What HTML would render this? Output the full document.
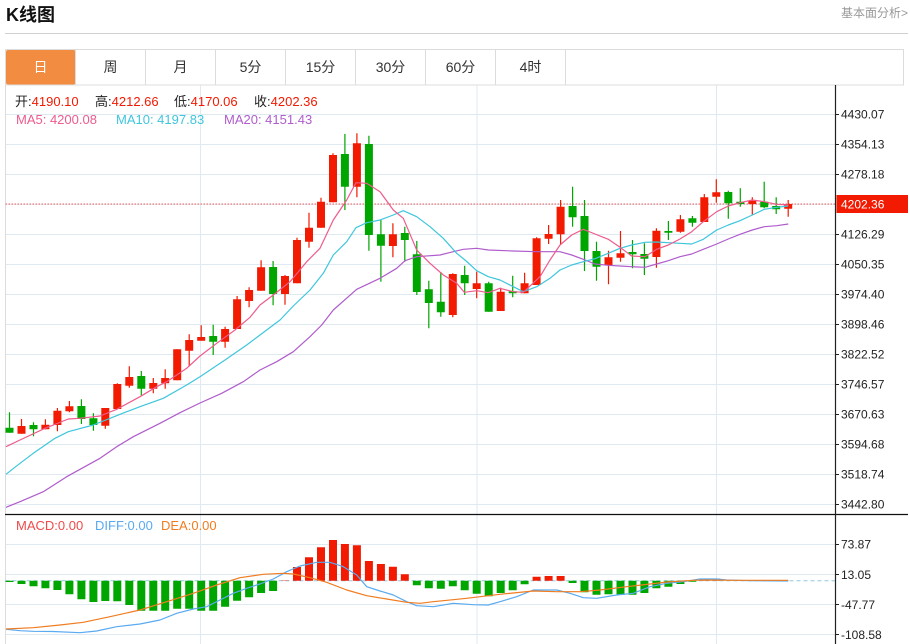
<!DOCTYPE html>
<html><head><meta charset="utf-8">
<style>
html,body{margin:0;padding:0;background:#fff;}
body{width:910px;height:644px;overflow:hidden;position:relative;font-family:"Liberation Sans","Noto Sans CJK SC",sans-serif;}
svg{position:absolute;left:0;top:0;}
</style></head>
<body>
<svg width="910" height="644" viewBox="0 0 910 644" xmlns="http://www.w3.org/2000/svg" font-family="Liberation Sans, Noto Sans CJK SC, sans-serif">
<text x="6" y="21" font-size="18" font-weight="bold" fill="#111">K线图</text>
<text x="908" y="17" font-size="12" fill="#999" text-anchor="end">基本面分析&gt;</text>
<line x1="5" y1="33.5" x2="908" y2="33.5" stroke="#d0d0d0" stroke-width="1"/>
<rect x="5.5" y="49.5" width="898" height="35.5" fill="#fff" stroke="#dcdcdc"/>
<rect x="6" y="50" width="69.5" height="34.5" rx="2" fill="#f28c40"/>
<path stroke="#dcdcdc" d="M75.5 49.5V85M145.5 49.5V85M215.5 49.5V85M285.5 49.5V85M355.5 49.5V85M425.5 49.5V85M495.5 49.5V85M565.5 49.5V85"/>
<g font-size="14" text-anchor="middle" fill="#333">
<text x="40.5" y="72" fill="#fff">日</text>
<text x="110.5" y="72">周</text>
<text x="180.5" y="72">月</text>
<text x="250.5" y="72">5分</text>
<text x="320.5" y="72">15分</text>
<text x="390.5" y="72">30分</text>
<text x="460.5" y="72">60分</text>
<text x="530.5" y="72">4时</text>
</g>
<path stroke="#dfe9f1" stroke-width="1" fill="none" d="M5.5 114.5H835M5.5 144.5H835M5.5 174.5H835M5.5 204.5H835M5.5 234.5H835M5.5 264.5H835M5.5 294.5H835M5.5 324.5H835M5.5 354.5H835M5.5 384.5H835M5.5 414.5H835M5.5 444.5H835M5.5 474.5H835M5.5 504.5H835M5.5 544.5H835M5.5 574.5H835M5.5 604.5H835M5.5 634.5H835M200.5 85V644M477 85V644M716.5 85V644"/>
<line x1="5.5" y1="85" x2="5.5" y2="644" stroke="#dcdcdc"/>
<g font-size="13">
<text x="15" y="106" fill="#222">开:<tspan fill="#f21a00">4190.10</tspan></text>
<text x="95" y="106" fill="#222">高:<tspan fill="#f21a00">4212.66</tspan></text>
<text x="174" y="106" fill="#222">低:<tspan fill="#f21a00">4170.06</tspan></text>
<text x="254" y="106" fill="#222">收:<tspan fill="#f21a00">4202.36</tspan></text>
<text x="16" y="124" fill="#ee5b8c">MA5: 4200.08</text>
<text x="116" y="124" fill="#3ec6dc">MA10: 4197.83</text>
<text x="224" y="124" fill="#b05ccc">MA20: 4151.43</text>
<text x="16" y="530" fill="#f04a4a">MACD:0.00</text>
<text x="95" y="530" fill="#5aaaf0">DIFF:0.00</text>
<text x="161" y="530" fill="#f07c20">DEA:0.00</text>
</g>
<line x1="5.5" y1="204" x2="835" y2="204" stroke="#f07878" stroke-width="1.2" stroke-dasharray="1.5,1.5"/>
<path stroke="#f21a00" stroke-width="1.2" fill="none" d="M21.5 419V433.7M45.4 419.3V429.3M57.4 408V431.3M69.4 401V412.3M105.3 408V428.7M117.3 383.3V409M129.3 366.3V387.7M153.3 378V393.3M165.2 369.3V388.7M177.2 349.3V380.3M189.2 334.3V366M201.2 325.3V340.7M225.1 326.7V347.7M237.1 296V329M249.1 287.3V307.3M261.1 260.3V290.7M285 275V304.7M297 237.7V283.3M309 212.7V247.7M321 197.7V227.7M333 153.3V202.3M356.9 133.3V197.3M392.9 223.3V257.3M452.8 273.3V317.3M476.7 271.7V298.3M500.7 287.7V311M524.6 272.7V293.3M536.6 237.3V285M548.6 225V244M560.6 200V245M608.5 250.7V284.3M620.5 231V261.7M656.4 228.3V267.7M680.4 215V232.7M704.3 194V222M716.3 179.3V202.7M752.3 197.3V215M788.2 200V216.7"/>
<path fill="#f21a00" d="M17.5 426h8v7.7h-8zM41.4 424.7h8v4.6h-8zM53.4 410.7h8v14.3h-8zM65.4 406.3h8v5h-8zM101.3 408h8v17.7h-8zM113.3 384h8v25h-8zM125.3 377h8v8.7h-8zM149.3 383h8v5.7h-8zM161.2 378h8v5.3h-8zM173.2 349.3h8v31h-8zM185.2 340h8v10.7h-8zM197.2 337h8v3.7h-8zM221.1 329h8v12.7h-8zM233.1 299.3h8v29.7h-8zM245.1 290h8v11h-8zM257.1 267.3h8v23.4h-8zM281 276h8v18h-8zM293 240h8v43.3h-8zM305 227.7h8v14h-8zM317 201.7h8v26h-8zM329 155h8v47.3h-8zM352.9 143.3h8v43.4h-8zM388.9 234.3h8v11.7h-8zM448.8 274h8v41h-8zM472.7 283.3h8v5.7h-8zM496.7 291.7h8v19.3h-8zM520.6 283.3h8v10h-8zM532.6 238.3h8v46.7h-8zM544.6 234h8v4.7h-8zM556.6 206.7h8v27.6h-8zM604.5 257.3h8v8h-8zM616.5 253.3h8v4.4h-8zM652.4 230.7h8v26.3h-8zM676.4 219.3h8v12.4h-8zM700.3 197.3h8v24.7h-8zM712.3 192.3h8v4.4h-8zM748.3 200.7h8v3.3h-8zM784.2 204h8v4.8h-8z"/>
<path stroke="#00a600" stroke-width="1.2" fill="none" d="M9.5 412.3V432.7M33.5 422.3V436.3M81.4 399.3V424M93.4 413.3V430.7M141.3 371V395.3M213.2 324.7V355M273.1 261V305.3M344.9 134V210M368.9 135.7V250.7M380.9 220V281.7M404.8 226.7V261.7M416.8 241V295M428.8 280.7V328.3M440.8 272V316.7M464.7 265.7V295M488.7 281.7V311.7M512.7 275.7V297.3M572.6 186.7V226.7M584.5 200V271M596.5 241.7V280.7M632.5 240V268.3M644.4 243.3V275M668.4 221V240M692.4 216V226.7M728.3 190.7V218.7M740.3 188.3V206.7M764.2 181.7V208.3M776.2 197.3V214"/>
<path fill="#00a600" d="M5.5 427.7h8v5h-8zM29.5 425h8v4.3h-8zM77.4 406h8v13h-8zM89.4 418.3h8v6.7h-8zM137.3 376h8v12.7h-8zM209.2 336h8v5.7h-8zM269.1 267h8v27h-8zM340.9 154h8v32.7h-8zM364.9 144h8v91h-8zM376.9 234.3h8v11.4h-8zM400.8 233h8v7h-8zM412.8 254.3h8v37.7h-8zM424.8 289.3h8v13.7h-8zM436.8 301.7h8v10.6h-8zM460.7 275h8v8.3h-8zM484.7 283.3h8v28.4h-8zM508.7 291.3h8v2h-8zM568.6 206h8v11.3h-8zM580.5 216h8v35h-8zM592.5 251h8v15.7h-8zM628.5 252h8v2.3h-8zM640.4 254h8v4.7h-8zM664.4 231h8v1.7h-8zM688.4 218.3h8v4.4h-8zM724.3 192h8v11.3h-8zM736.3 201.7h8v2.3h-8zM760.2 201.7h8v5.6h-8zM772.2 206h8v3.3h-8z"/>
<g fill="none" stroke-width="1.2" stroke-linejoin="round">
<polyline stroke="#b05ccc" points="6,507.3 20,501.7 43.3,491.7 66.7,476.7 100,458.3 116.7,446.7 133.3,436.7 160,423.3 180,412.7 200,403 221.7,393.3 243.3,381.7 260,370 276.7,361.7 293.3,351.7 310,336.7 321.7,325 333.3,310 356.7,289.3 380,278.3 396.7,268.3 405,260.7 416.7,256.7 440,255 453.3,251.7 463.3,249.3 476.7,248.3 488.3,250 513.3,251 536.7,251.7 560,251.7 571.7,255 583.3,259.3 595,264 608.3,265.3 620,266 631.7,266.7 645,267.3 656.7,264 668.3,260.7 680,256.7 691.7,254 703.3,249.3 716.7,244 728.3,239 740,234.3 752.3,230 764.3,226.7 776.7,225.7 788.3,224"/>
<polyline stroke="#3ec6dc" points="6,474.3 20,463.3 33.3,453.3 55,438.3 68.3,431.7 93.3,425 110,418.3 126.7,411.7 140,406.7 163.3,398.3 186.7,385 200,376.7 225,360 246.7,345 260,335 280,320 293.3,306 310,290 323.3,273.3 333.3,255 346.7,241.7 356,227.7 366.7,222.7 380,220 393.3,215 403.3,210.7 416.7,216.7 430,226.7 443.3,238.3 456.7,253.3 465,260 476.7,270.7 488.3,276.7 500,280 513.3,286.7 523.3,291.7 536.7,286.7 550,278.3 560,270 571.7,265 583.3,261.7 595,258.7 608.3,253.3 620,248.3 631.7,245 645,242.3 656.7,242 668.3,242.7 680,243.3 691.7,244 703.3,239.3 716.7,230 728.3,225 740,220.7 752.3,215 764.3,209.3 776.7,207.3 788.3,206"/>
<polyline stroke="#ee5b8c" points="6,446.7 20,440 45,428.3 68.3,419 80,418.3 100,416 116.7,409.3 140,396.7 156.7,386.7 166.7,381.7 186.7,368.3 200,356 216.7,343.3 235,330 250,317.3 260,305 273.3,295 290,281.7 306.7,261.7 320,248.3 333.3,220 346.7,200 356,182.7 366.7,183.3 380,191.7 393.3,210 403.3,218.3 416.7,250 430,263.3 443.3,275 456.7,283.3 464.3,292.3 476.7,290.7 488.3,292.7 500,288.3 513.3,291.7 523.3,292.3 540,276.7 550,260 560,245 571.7,235 583.3,229.3 595,234 608.3,239.3 620,247.3 631.7,256 645,256.7 656.7,249.3 668.3,245 680,239 691.7,231.7 703.3,221.7 716.7,211.7 728.3,206 740,202.7 752.3,200 764.3,201.7 776.7,204.3 788.3,205"/>
</g>
<line x1="5" y1="514.5" x2="908" y2="514.5" stroke="#111" stroke-width="1.2"/>
<line x1="5.5" y1="580.7" x2="835" y2="580.7" stroke="#93c9e0" stroke-width="1" stroke-dasharray="4,3"/>
<path fill="#00a600" d="M5.5 580.7h8v1.3h-8zM17.5 580.7h8v3.3h-8zM29.5 580.7h8v5.6h-8zM41.4 580.7h8v7.6h-8zM53.4 580.7h8v9.3h-8zM65.4 580.7h8v13.6h-8zM77.4 580.7h8v18.6h-8zM89.4 580.7h8v21.3h-8zM101.3 580.7h8v20.3h-8zM113.3 580.7h8v20.6h-8zM125.3 580.7h8v24.3h-8zM137.3 580.7h8v30h-8zM149.3 580.7h8v30h-8zM161.2 580.7h8v30h-8zM173.2 580.7h8v28h-8zM185.2 580.7h8v28h-8zM197.2 580.7h8v30h-8zM209.2 580.7h8v30h-8zM221.1 580.7h8v26h-8zM233.1 580.7h8v20h-8zM245.1 580.7h8v16.6h-8zM257.1 580.7h8v12.3h-8zM269.1 580.7h8v10.3h-8zM412.8 580.7h8v4.6h-8zM424.8 580.7h8v7.6h-8zM436.8 580.7h8v8h-8zM448.8 580.7h8v5.6h-8zM460.7 580.7h8v9.6h-8zM472.7 580.7h8v13h-8zM484.7 580.7h8v15.6h-8zM496.7 580.7h8v12.3h-8zM508.7 580.7h8v9.6h-8zM520.6 580.7h8v3.6h-8zM568.6 580.7h8v2.3h-8zM580.5 580.7h8v11.6h-8zM592.5 580.7h8v14h-8zM604.5 580.7h8v13.6h-8zM616.5 580.7h8v14h-8zM628.5 580.7h8v14h-8zM640.4 580.7h8v12.3h-8zM652.4 580.7h8v7.6h-8zM664.4 580.7h8v6h-8zM676.4 580.7h8v3.3h-8zM688.4 580.7h8v1h-8z"/>
<path fill="#f21a00" d="M293 567h8v13.7h-8zM305 557.3h8v23.4h-8zM317 547.3h8v33.4h-8zM329 540h8v40.7h-8zM340.9 544h8v36.7h-8zM352.9 545.3h8v35.4h-8zM364.9 561h8v19.7h-8zM376.9 564h8v16.7h-8zM388.9 566.7h8v14h-8zM400.8 574.3h8v6.4h-8zM532.6 576.7h8v4h-8zM544.6 576h8v4.7h-8zM556.6 576h8v4.7h-8z"/>
<path fill="#f08080" d="M281 580h8v0.7h-8z"/>
<path fill="#c0606a" d="M700.3 578.5h8v2.2h-8zM712.3 578.5h8v2.2h-8z"/>
<g fill="none" stroke-width="1.2" stroke-linejoin="round">
<polyline stroke="#5aaaf0" points="6,629.3 20,630.7 33.3,631.3 53,631.5 80,632.7 96.7,631 116.7,626.7 140,624 160,620 176.7,613.3 193.3,609 206.7,606.7 220,600 233.3,593.3 246.7,588.3 260,584 273.3,579 286.7,571.7 300,566 316.7,562.3 330,562.3 343.3,566.7 356.7,575 366.7,586.7 380,591 393.3,595 406.7,601.7 416.7,605.7 433.3,606.7 453.3,603.3 473.3,604.7 488.3,605 500,601.7 516.7,596.7 533.3,590 556.7,590 570,593.3 583.3,597.7 596.7,598.3 616.7,595 633.3,593.3 650,586.7 666.7,583.3 683.3,581.7 700,579 716.7,579 726.7,580 750,580.7 788.3,581"/>
<polyline stroke="#f07c20" points="6,629 33.3,627.7 60,625 83.3,622.3 110,616.7 140,610 166.7,601.7 193.3,593.3 216.7,585 240,577.7 263.3,574.3 283.3,573.3 293.3,574 310,577.7 326.7,582.3 346.7,590 366.7,595.7 386.7,599 406.7,602.3 420,603.3 433.3,601.7 466.7,598.3 500,594.3 533.3,591 556.7,591.7 580,591.7 600,590 626.7,586.7 650,584 666.7,582 693.3,580.3 706.7,580 733.3,580.3 788.3,580.3"/>
</g>
<line x1="835.5" y1="85" x2="835.5" y2="644" stroke="#222" stroke-width="1.2"/>
<path stroke="#222" stroke-width="1" d="M835 114.5H839M835 144.5H839M835 174.5H839M835 234.5H839M835 264.5H839M835 294.5H839M835 324.5H839M835 354.5H839M835 384.5H839M835 414.5H839M835 444.5H839M835 474.5H839M835 504.5H839M835 544.5H839M835 574.5H839M835 604.5H839M835 634.5H839"/>
<rect x="836.5" y="195" width="71.5" height="18" fill="#f21a00"/>
<g font-size="12" fill="#222">
<text x="841" y="118.5">4430.07</text>
<text x="841" y="148.5">4354.13</text>
<text x="841" y="178.5">4278.18</text>
<text x="841" y="208.5" fill="#fff">4202.36</text>
<text x="841" y="238.5">4126.29</text>
<text x="841" y="268.5">4050.35</text>
<text x="841" y="298.5">3974.40</text>
<text x="841" y="328.5">3898.46</text>
<text x="841" y="358.5">3822.52</text>
<text x="841" y="388.5">3746.57</text>
<text x="841" y="418.5">3670.63</text>
<text x="841" y="448.5">3594.68</text>
<text x="841" y="478.5">3518.74</text>
<text x="841" y="508.5">3442.80</text>
<text x="841" y="548.5">73.87</text>
<text x="841" y="579">13.05</text>
<text x="841" y="609">-47.77</text>
<text x="841" y="639">-108.58</text>
</g>
</svg>
</body></html>
